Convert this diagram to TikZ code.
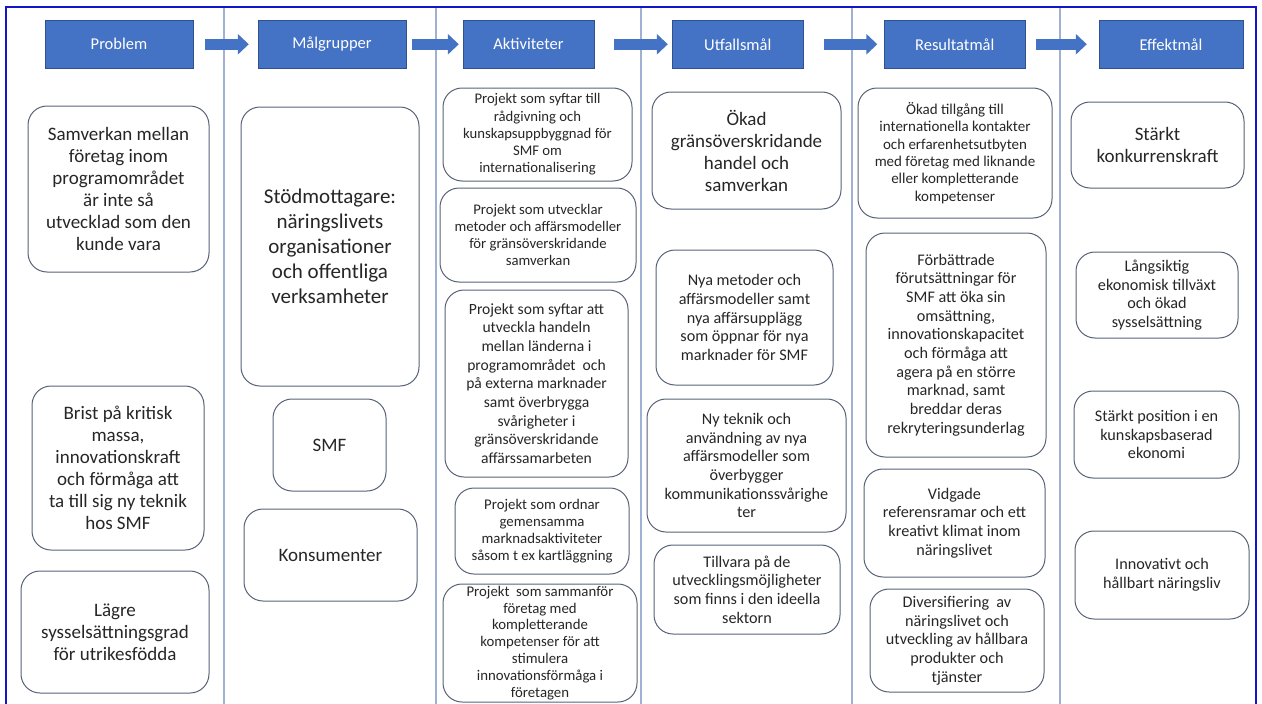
\documentclass[tikz,border=0pt]{standalone}
\usepackage{fontspec}
\setmainfont{Carlito}
\usetikzlibrary{arrows.meta}
\definecolor{hblue}{RGB}{68,114,196}
\definecolor{hedge}{RGB}{47,82,143}
\definecolor{boxline}{RGB}{88,98,118}
\definecolor{sepline}{RGB}{160,178,212}
\definecolor{frameblue}{RGB}{20,20,200}
\definecolor{txt}{RGB}{38,38,38}
\begin{document}
\begin{tikzpicture}[x=1pt,y=-1pt,
  head/.style={draw=hedge,fill=hblue,text=white,inner sep=0,minimum height=48.5,font=\fontsize{16.5}{19}\selectfont},
  card/.style={draw=boxline,line width=1pt,rounded corners=19pt,text=txt,align=center,inner sep=0},
  harrow/.style={hblue,line width=10.5pt,-{Triangle[length=11pt,width=20pt]}},
  txthuge/.style={font=\fontsize{21}{25}\selectfont},
  txtbig/.style={font=\fontsize{19}{22}\selectfont},
  txtmid/.style={font=\fontsize{16.2}{18.7}\selectfont},
  txtsmall/.style={font=\fontsize{14.7}{17.2}\selectfont}]
\useasboundingbox (0,0) rectangle (1262,704);
% columns and frame
\foreach \x in {224,436,641,852,1060}
\draw[sepline,line width=1.2pt] (\x,6.5) -- (\x,704);
\draw[frameblue,line width=2pt] (6,704) -- (6,6.5) -- (1256,6.5) -- (1256,704);
% headings
\node[head,minimum width=148] (prob) at (119,44.25) {Problem};
\node[head,minimum width=148] (malg) at (332,44.25) {Målgrupper};
\node[head,minimum width=131] (akt) at (528.5,44.25) {Aktiviteter};
\node[head,minimum width=130.5] (utf) at (737.75,44.25) {Utfallsmål};
\node[head,minimum width=140.5] (res) at (954.75,44.25) {Resultatmål};
\node[head,minimum width=144] (eff) at (1171,44.25) {Effektmål};
\draw[harrow,shorten <=12pt,shorten >=9pt] (prob) -- (malg);
\draw[harrow,shorten <=6pt,shorten >=4pt] (malg) -- (akt);
\draw[harrow,shorten <=20pt,shorten >=4.5pt] (akt) -- (utf);
\draw[harrow,shorten <=21pt,shorten >=7pt] (utf) -- (res);
\draw[harrow,shorten <=10.5pt,shorten >=12pt] (res) -- (eff);
% Problem
\node[card,txtbig,minimum width=181,minimum height=166] (prob1) at (118.5,189) {Samverkan mellan\\företag inom\\programområdet\\är inte så\\utvecklad som den\\kunde vara};
\node[card,txtbig,minimum width=172,minimum height=164] (prob2) at (118,468) {Brist på kritisk\\massa,\\innovationskraft\\och förmåga att\\ta till sig ny teknik\\hos SMF};
\node[card,txtbig,minimum width=188,minimum height=122] (prob3) at (115,632) {Lägre\\sysselsättningsgrad\\för utrikesfödda};
% Malgrupper
\node[card,txthuge,minimum width=178,minimum height=279] (malg1) at (330,246.5) {Stödmottagare:\\näringslivets\\organisationer\\och offentliga\\verksamheter};
\node[card,txtbig,minimum width=113,minimum height=92] (malg2) at (329.5,445) {SMF};
\node[card,txtbig,minimum width=173,minimum height=92] (malg3) at (330.5,555) {Konsumenter};
% Aktiviteter
\node[card,txtsmall,minimum width=189,minimum height=93] (akt1) at (537.5,134.5) {Projekt som syftar till\\rådgivning och\\kunskapsuppbyggnad för\\SMF om\\internationalisering};
\node[card,txtsmall,minimum width=196,minimum height=94] (akt2) at (538,235) {Projekt som utvecklar\\metoder och affärsmodeller\\för gränsöverskridande\\samverkan};
\node[card,font=\fontsize{15.6}{18.7}\selectfont,minimum width=183,minimum height=187] (akt3) at (536.5,383.5) {Projekt som syftar att\\utveckla handeln\\mellan länderna i\\programområdet\ \ och\\på externa marknader\\samt överbrygga\\svårigheter i\\gränsöverskridande\\affärssamarbeten};
\node[card,font=\fontsize{14.8}{17}\selectfont,minimum width=174,minimum height=86] (akt4) at (542,531) {Projekt som ordnar\\gemensamma\\marknadsaktiviteter\\såsom t ex kartläggning};
\node[card,font=\fontsize{14.8}{16.9}\selectfont,minimum width=194,minimum height=118] (akt5) at (540,643) {Projekt\ \ som sammanför\\företag med\\kompletterande\\kompetenser för att\\stimulera\\innovationsförmåga i\\företagen};
% Utfallsmal
\node[card,txtbig,minimum width=189,minimum height=117] (utf1) at (746.5,150.5) {Ökad\\gränsöverskridande\\handel och\\samverkan};
\node[card,txtmid,minimum width=177,minimum height=135] (utf2) at (744.5,317.5) {Nya metoder och\\affärsmodeller samt\\nya affärsupplägg\\som öppnar för nya\\marknader för SMF};
\node[card,txtmid,minimum width=199,minimum height=133] (utf3) at (746.5,465.5) {Ny teknik och\\användning av nya\\affärsmodeller som\\överbygger\\kommunikationssvårighe\\ter};
\node[card,txtmid,minimum width=186,minimum height=89] (utf4) at (747,589.5) {Tillvara på de\\utvecklingsmöjligheter\\som finns i den ideella\\sektorn};
% Resultatmal
\node[card,font=\fontsize{15}{17.3}\selectfont,minimum width=194,minimum height=130] (res1) at (955,153) {Ökad tillgång till\\internationella kontakter\\och erfarenhetsutbyten\\med företag med liknande\\eller kompletterande\\kompetenser};
\node[card,txtmid,minimum width=180,minimum height=224] (res2) at (956,345) {Förbättrade\\förutsättningar för\\SMF att öka sin\\omsättning,\\innovationskapacitet\\och förmåga att\\agera på en större\\marknad, samt\\breddar deras\\rekryteringsunderlag};
\node[card,txtmid,minimum width=181,minimum height=108] (res3) at (954.5,523) {Vidgade\\referensramar och ett\\kreativt klimat inom\\näringslivet};
\node[card,txtmid,minimum width=174,minimum height=103] (res4) at (957,640.5) {Diversifiering\ \ av\\näringslivet och\\utveckling av hållbara\\produkter och\\tjänster};
% Effektmal
\node[card,txtbig,minimum width=173,minimum height=86] (eff1) at (1157.5,145) {Stärkt\\konkurrenskraft};
\node[card,txtmid,minimum width=162,minimum height=86] (eff2) at (1157,295) {Långsiktig\\ekonomisk tillväxt\\och ökad\\sysselsättning};
\node[card,txtmid,minimum width=165,minimum height=87] (eff3) at (1156.5,434.5) {Stärkt position i en\\kunskapsbaserad\\ekonomi};
\node[card,txtmid,minimum width=174,minimum height=88] (eff4) at (1162,575) {Innovativt och\\hållbart näringsliv};
\end{tikzpicture}
\end{document}
